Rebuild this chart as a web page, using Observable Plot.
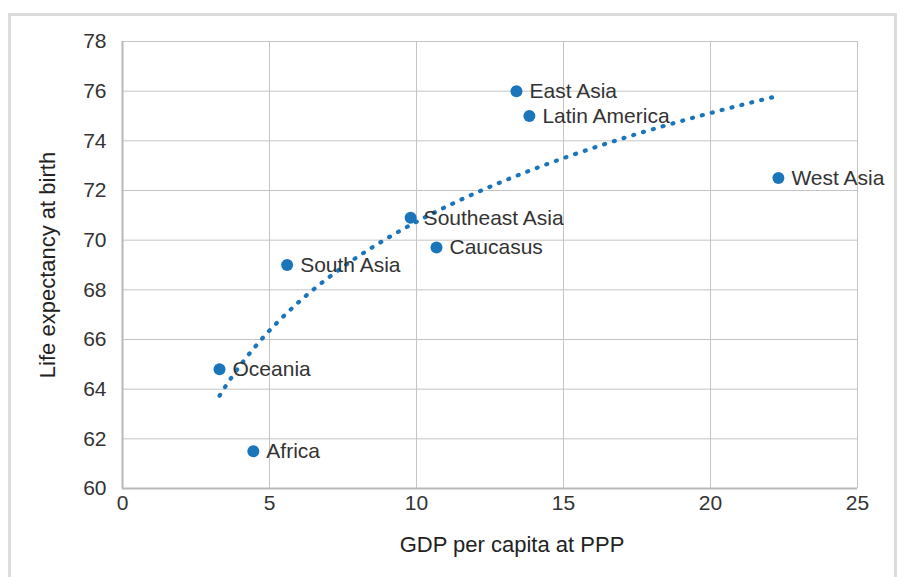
<!DOCTYPE html>
<html>
<head>
<meta charset="utf-8">
<script src="https://cdn.jsdelivr.net/npm/d3@7"></script>
<script src="https://cdn.jsdelivr.net/npm/@observablehq/plot@0.6"></script>
<style>
  html, body { margin: 0; padding: 0; background: #fff; }
  #wrap { position: relative; width: 905px; height: 577px; overflow: hidden; }
  #frame { position: absolute; left: 8px; top: 13px; width: 889px; height: 600px; border: 3px solid #dcdcdc; box-sizing: border-box; pointer-events: none; }
  #chart { position: absolute; left: 0; top: 0; }
</style>
</head>
<body>
<div id="wrap"><div id="chart"></div><div id="frame"></div></div>
<script>
const regions = ["Oceania", "Africa", "South Asia", "Southeast Asia", "Caucasus", "East Asia", "Latin America", "West Asia"];
const gdp = [3.3, 4.45, 5.6, 9.8, 10.68, 13.4, 13.84, 22.31];
const lifeExp = [64.8, 61.5, 69.0, 70.9, 69.7, 76.0, 75.0, 72.5];
const xTicks = [0, 5, 10, 15, 20, 25];
const yTicks = [60, 62, 64, 66, 68, 70, 72, 74, 76, 78];

const data = regions.map((r, i) => ({region: r, x: gdp[i], y: lifeExp[i]}));

// Logarithmic trendline (least squares fit of y = a + b ln x) computed from the data
const lx = gdp.map(Math.log);
const mx = d3.mean(lx), my = d3.mean(lifeExp);
const b = d3.sum(lx, (v, i) => (v - mx) * (lifeExp[i] - my)) / d3.sum(lx, v => (v - mx) ** 2);
const a = my - b * mx;
const [x0, x1] = d3.extent(gdp);
const trend = d3.range(0, 201).map(k => {
  const x = x0 + (x1 - x0) * k / 200;
  return {x, y: a + b * Math.log(x)};
});

const blue = "#1b75bb";
const font = "'Helvetica Neue', 'Liberation Sans', Arial, sans-serif";

const chart = Plot.plot({
  width: 905,
  height: 577,
  marginLeft: 122,
  marginRight: 48,
  marginTop: 41,
  marginBottom: 89,
  style: {fontFamily: font, fontSize: "21px", color: "#333", background: "transparent"},
  x: {domain: [0, 25], ticks: xTicks},
  y: {domain: [60, 78], ticks: yTicks},
  marks: [
    Plot.gridX(xTicks, {stroke: "#c4c4c4", strokeOpacity: 1}),
    Plot.gridY(yTicks, {stroke: "#c4c4c4", strokeOpacity: 1}),
    Plot.ruleX([0], {stroke: "#b8b8b8", strokeWidth: 2}),
    Plot.ruleY([60], {stroke: "#b8b8b8", strokeWidth: 2}),
    Plot.axisX(xTicks, {tickSize: 0, tickPadding: 7, fontSize: 21, fontWeight: 300, fill: "#333", label: null}),
    Plot.axisY(yTicks, {tickSize: 0, tickPadding: 16, fontSize: 21, fontWeight: 300, fill: "#333", label: null}),
    Plot.line(trend, {x: "x", y: "y", stroke: blue, strokeWidth: 4.2, strokeDasharray: "1 9.2", strokeLinecap: "round", curve: "linear"}),
    Plot.dot(data, {x: "x", y: "y", r: 6, fill: blue, stroke: "none"}),
    Plot.text(data, {x: "x", y: "y", text: "region", dx: 13, textAnchor: "start", fontSize: 21, fontWeight: 300, fill: "#333"}),
    Plot.text(["Life expectancy at birth"], {frameAnchor: "left", textAnchor: "middle", rotate: -90, dx: -75, fontSize: 22, fontWeight: 300, fill: "#222"}),
    Plot.text(["GDP per capita at PPP"], {frameAnchor: "bottom", textAnchor: "middle", dx: 22, dy: 63, fontSize: 22, fontWeight: 300, fill: "#222"})
  ]
});
document.getElementById("chart").appendChild(chart);
</script>
</body>
</html>
